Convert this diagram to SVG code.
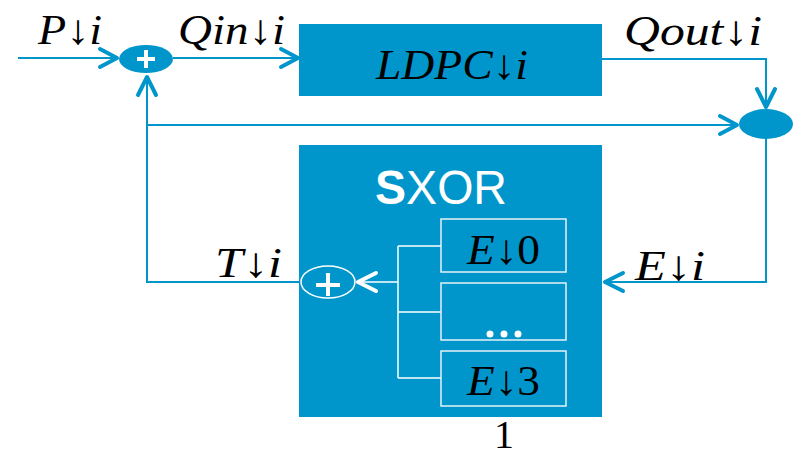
<svg xmlns="http://www.w3.org/2000/svg" width="797" height="458" viewBox="0 0 797 458">
<style>
.ln{fill:none;stroke:#0096CC;stroke-width:2}
.ah{fill:none;stroke:#0096CC;stroke-width:4;stroke-linecap:round;stroke-linejoin:round}
.wl{fill:none;stroke:#FFFFFF;stroke-width:1.5}
.wah{fill:none;stroke:#FFFFFF;stroke-width:4;stroke-linecap:round;stroke-linejoin:round}
.blk{fill:#0096CC}
.m{font-family:"Liberation Serif","DejaVu Serif",serif;font-style:italic;font-size:42px;fill:#000}
.up{font-style:normal}
.ib{fill:none;stroke:#E6F2F8;stroke-width:1.5}
</style>
<rect width="797" height="458" fill="#FFFFFF"/>
<g id="connectors">
  <path class="ln" d="M18,58 H116"/>
  <path class="ah" d="M100,49 L117,58 L100,67"/>
  <path class="ln" d="M173,58 H297"/>
  <path class="ah" d="M281,49 L298,58 L281,67"/>
  <path class="ln" d="M602,59 H766 V106"/>
  <path class="ah" d="M757,89 L766,107 L775,89"/>
  <path class="ln" d="M147,125 H737"/>
  <path class="ah" d="M720,116 L737,125 L720,134"/>
  <path class="ln" d="M766,139 V282 H605"/>
  <path class="ah" d="M623,273 L605,282 L623,291"/>
  <path class="ln" d="M300,282 H147 V76"/>
  <path class="ah" d="M138,95 L147,77 L156,95"/>
</g>
<g id="sum1">
  <ellipse cx="146" cy="59" rx="27" ry="14" class="blk"/>
  <path d="M146,50 V68 M137,59 H155" stroke="#FFFFFF" stroke-width="4" fill="none"/>
</g>
<g id="sum2">
  <ellipse cx="766" cy="124" rx="27" ry="15" class="blk"/>
</g>
<g id="ldpc">
  <rect x="299" y="24" width="303" height="72" class="blk"/>
  <text x="376" y="79" class="m" textLength="152" lengthAdjust="spacingAndGlyphs">LDPC↓i</text>
</g>
<g id="sxor">
  <rect x="299" y="145" width="303" height="272" class="blk"/>
  <text x="375" y="204" font-family="'Liberation Sans','Open Sans',sans-serif" font-size="48" fill="#FFFFFF" textLength="132" lengthAdjust="spacingAndGlyphs"><tspan font-weight="bold">S</tspan>XOR</text>
  <ellipse cx="328" cy="282" rx="27" ry="16" class="wl" stroke="#FFFFFF"/>
  <path d="M328,273 V296 M316,285 H340" stroke="#FFFFFF" stroke-width="4" fill="none"/>
  <path class="wl" d="M360,282 H398 M398,246 V378 M398,246 H441 M398,312 H441 M398,378 H441"/>
  <path class="wah" d="M376,273 L358,282 L376,291"/>
</g>
<g id="e0">
  <rect x="441" y="219" width="125" height="53" class="ib"/>
  <text x="467" y="264" class="m" textLength="73" lengthAdjust="spacingAndGlyphs">E↓<tspan class="up">0</tspan></text>
</g>
<g id="edots">
  <rect x="441" y="283" width="125" height="57" class="ib"/>
  <circle cx="490" cy="334" r="3.5" fill="#FFFFFF"/>
  <circle cx="504" cy="334" r="3.5" fill="#FFFFFF"/>
  <circle cx="518" cy="334" r="3.5" fill="#FFFFFF"/>
</g>
<g id="e3">
  <rect x="441" y="351" width="125" height="55" class="ib"/>
  <text x="467" y="395" class="m" textLength="73" lengthAdjust="spacingAndGlyphs">E↓<tspan class="up">3</tspan></text>
</g>
<g id="labels">
  <text x="38" y="44" class="m" textLength="64" lengthAdjust="spacingAndGlyphs">P↓i</text>
  <text x="178" y="44" class="m" textLength="107" lengthAdjust="spacingAndGlyphs">Qin↓i</text>
  <text x="624" y="45" class="m" textLength="138" lengthAdjust="spacingAndGlyphs">Qout↓i</text>
  <text x="215" y="277" class="m" textLength="67" lengthAdjust="spacingAndGlyphs">T↓i</text>
  <text x="635" y="280" class="m" textLength="70" lengthAdjust="spacingAndGlyphs">E↓i</text>
  <text x="504" y="448" font-family="'Liberation Serif',serif" font-size="40" fill="#000" text-anchor="middle">1</text>
</g>
</svg>
